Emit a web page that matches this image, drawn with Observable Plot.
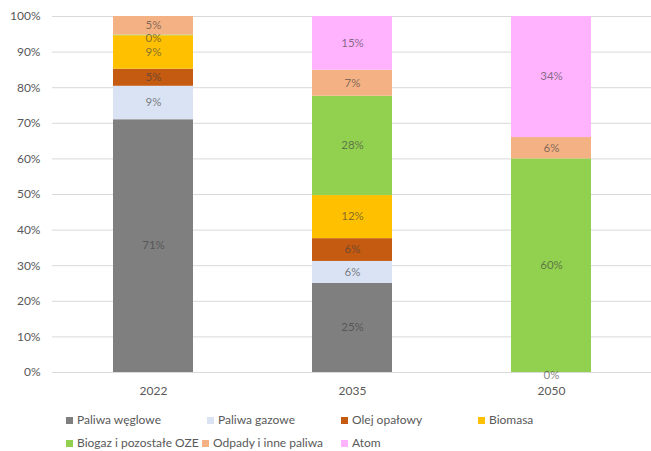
<!DOCTYPE html>
<html>
<head>
<meta charset="utf-8">
<script src="https://cdn.jsdelivr.net/npm/d3@7"></script>
<script src="https://cdn.jsdelivr.net/npm/@observablehq/plot@0.6"></script>
<style>
  body { margin: 0; background: #fff; font-family: Lato, "Open Sans", sans-serif; }
  #chart { position: relative; width: 651px; height: 451px; overflow: hidden; }
  #chart svg { display: block; }
  .legend-item { position: absolute; display: flex; align-items: center; font-size: 12px; color: #595959; white-space: nowrap; line-height: 14px; }
  .legend-item .sw { width: 7px; height: 7px; margin-right: 4px; flex: none; }
</style>
</head>
<body>
<div id="chart"></div>
<script>
// Fuel mix by year, shares in percent
const years = ["2022", "2035", "2050"];
const series = [
  "Paliwa węglowe",
  "Paliwa gazowe",
  "Olej opałowy",
  "Biomasa",
  "Biogaz i pozostałe OZE",
  "Odpady i inne paliwa",
  "Atom"
];
const colors = ["#7f7f7f", "#dae3f3", "#c55a11", "#ffc000", "#92d050", "#f4b183", "#ffb3ff"];

// one value per series, in the order above (null = absent from that year's mix)
const share2022 = [71, 9.4, 4.8, 9.4, 0.2, 5.2, null];
const share2035 = [25, 6.2, 6.4, 12.1, 27.9, 7.3, 15.1];
const share2050 = [0, null, null, null, 60, 6, 34];

const yTicks = [0, 10, 20, 30, 40, 50, 60, 70, 80, 90, 100];

const byYear = [share2022, share2035, share2050];
const rows = [];
years.forEach((year, i) => {
  byYear[i].forEach((value, j) => {
    if (value !== null) rows.push({year, series: series[j], value});
  });
});

const pct = d => Math.round(d.value) + "%";
const isZero = d => Math.round(d.value) === 0;

// value labels stacked like the bars; zero shares get their own, slightly lower, mark
const labelOptions = (text, dy) => ({
  x: "year",
  y: "value",
  z: "series",
  order: series,
  text,
  fill: "#404040",
  fillOpacity: 0.65,
  fontSize: 11.5,
  lineHeight: 0.9,
  dy
});

const chart = Plot.plot({
  width: 651,
  height: 405,
  marginLeft: 52,
  marginRight: 0,
  marginTop: 16,
  marginBottom: 33,
  style: {fontFamily: "Lato, 'Open Sans', sans-serif", fontSize: "12px", color: "#595959", background: "#fff"},
  x: {domain: years, paddingInner: 0.6, paddingOuter: 0.3, label: null, tickSize: 0, tickPadding: 14},
  y: {domain: [0, 100], ticks: yTicks, tickFormat: d => d + "%", label: null, tickSize: 0, tickPadding: 12},
  color: {domain: series, range: colors},
  marks: [
    Plot.gridY(yTicks, {stroke: "#d9d9d9", strokeOpacity: 1}),
    Plot.barY(rows, {x: "year", y: "value", fill: "series", order: series}),
    Plot.text(rows, Plot.stackY(labelOptions(d => isZero(d) ? null : pct(d), 0))),
    Plot.text(rows, Plot.stackY(labelOptions(d => isZero(d) ? pct(d) : null, 3)))
  ]
});

const root = document.getElementById("chart");
root.appendChild(chart);

// Legend below the plot: two rows of swatches
const legendRows = [[0, 1, 2, 3], [4, 5, 6]];
const legendLefts = [[66, 207, 341, 478], [66, 202, 341]];
const legendTops = [413, 436];
legendRows.forEach((row, r) => {
  row.forEach((k, c) => {
    const item = document.createElement("div");
    item.className = "legend-item";
    item.style.left = legendLefts[r][c] + "px";
    item.style.top = legendTops[r] + "px";
    const sw = document.createElement("span");
    sw.className = "sw";
    sw.style.background = colors[k];
    const label = document.createElement("span");
    label.textContent = series[k];
    item.appendChild(sw);
    item.appendChild(label);
    root.appendChild(item);
  });
});
</script>
</body>
</html>
